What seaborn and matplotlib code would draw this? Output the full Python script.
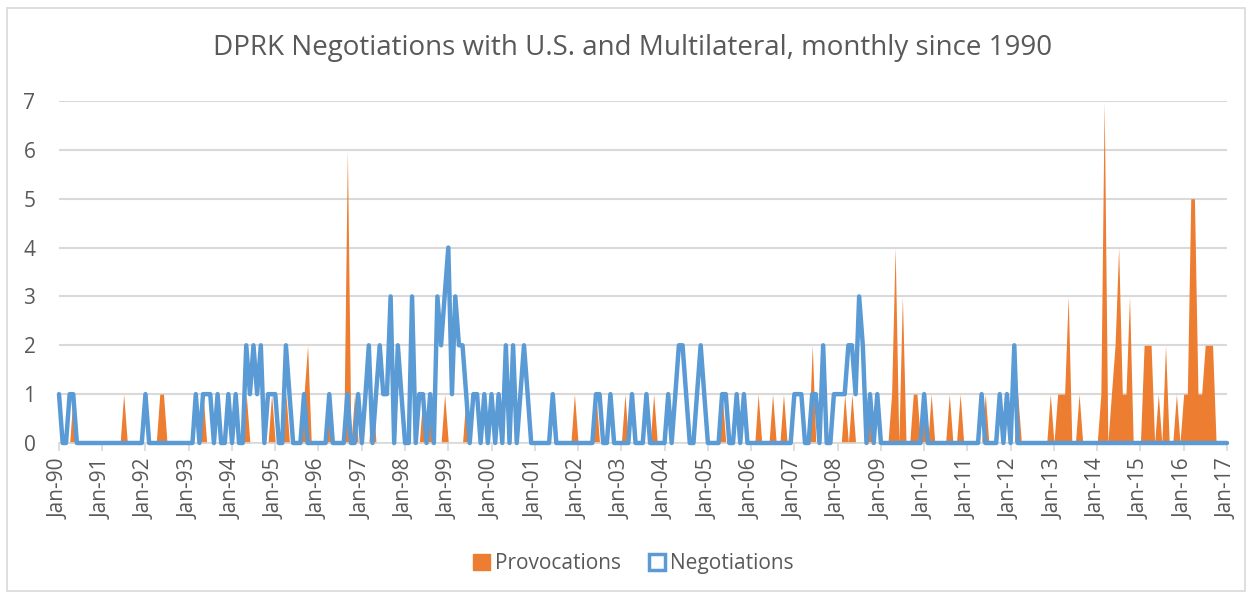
import matplotlib
matplotlib.use("Agg")
import matplotlib.pyplot as plt
import matplotlib.dates as mdates
from matplotlib.patches import Patch, Rectangle
from matplotlib.lines import Line2D
import seaborn as sns
import pandas as pd
import numpy as np

# monthly counts, Jan 1990 .. Jan 2017 (one row per year)
negotiations = [
    1, 0, 0, 1, 1, 0, 0, 0, 0, 0, 0, 0,  # 1990
    0, 0, 0, 0, 0, 0, 0, 0, 0, 0, 0, 0,  # 1991
    1, 0, 0, 0, 0, 0, 0, 0, 0, 0, 0, 0,  # 1992
    0, 0, 1, 0, 1, 1, 1, 0, 1, 0, 0, 1,  # 1993
    0, 1, 0, 0, 2, 1, 2, 1, 2, 0, 1, 1,  # 1994
    1, 0, 0, 2, 1, 0, 0, 0, 1, 0, 0, 0,  # 1995
    0, 0, 0, 1, 0, 0, 0, 0, 1, 0, 0, 1,  # 1996
    0, 1, 2, 0, 1, 2, 1, 1, 3, 0, 2, 1,  # 1997
    0, 0, 3, 0, 1, 1, 0, 1, 0, 3, 2, 3,  # 1998
    4, 1, 3, 2, 2, 1, 0, 1, 1, 0, 1, 0,  # 1999
    1, 0, 1, 0, 2, 0, 2, 0, 1, 2, 1, 0,  # 2000
    0, 0, 0, 0, 0, 1, 0, 0, 0, 0, 0, 0,  # 2001
    0, 0, 0, 0, 0, 1, 1, 0, 0, 1, 0, 0,  # 2002
    0, 0, 0, 1, 0, 0, 0, 1, 0, 0, 0, 0,  # 2003
    0, 1, 0, 1, 2, 2, 1, 0, 0, 1, 2, 1,  # 2004
    0, 0, 0, 0, 1, 1, 0, 0, 1, 0, 1, 0,  # 2005
    0, 0, 0, 0, 0, 0, 0, 0, 0, 0, 0, 0,  # 2006
    1, 1, 1, 0, 0, 1, 1, 0, 2, 0, 0, 1,  # 2007
    1, 1, 1, 2, 2, 1, 3, 2, 0, 1, 0, 1,  # 2008
    0, 0, 0, 0, 0, 0, 0, 0, 0, 0, 0, 0,  # 2009
    1, 0, 0, 0, 0, 0, 0, 0, 0, 0, 0, 0,  # 2010
    0, 0, 0, 0, 1, 0, 0, 0, 0, 1, 0, 1,  # 2011
    0, 2, 0, 0, 0, 0, 0, 0, 0, 0, 0, 0,  # 2012
    0, 0, 0, 0, 0, 0, 0, 0, 0, 0, 0, 0,  # 2013
    0, 0, 0, 0, 0, 0, 0, 0, 0, 0, 0, 0,  # 2014
    0, 0, 0, 0, 0, 0, 0, 0, 0, 0, 0, 0,  # 2015
    0, 0, 0, 0, 0, 0, 0, 0, 0, 0, 0, 0,  # 2016
    0,                                   # 2017
]

provocations = [
    0, 0, 0, 0, 1, 0, 0, 0, 0, 0, 0, 0,  # 1990
    0, 0, 0, 0, 0, 0, 1, 0, 0, 0, 0, 0,  # 1991
    0, 0, 0, 0, 1, 1, 0, 0, 0, 0, 0, 0,  # 1992
    0, 0, 0, 0, 1, 0, 0, 0, 0, 0, 0, 0,  # 1993
    0, 0, 0, 0, 1, 0, 0, 0, 0, 0, 0, 1,  # 1994
    0, 0, 0, 1, 0, 0, 0, 0, 1, 2, 0, 0,  # 1995
    0, 0, 0, 1, 0, 0, 0, 0, 6, 0, 1, 0,  # 1996
    0, 0, 0, 1, 0, 0, 0, 0, 0, 0, 0, 0,  # 1997
    0, 0, 0, 0, 0, 1, 0, 1, 0, 0, 0, 1,  # 1998
    0, 0, 0, 0, 0, 1, 0, 0, 0, 0, 0, 0,  # 1999
    0, 0, 0, 0, 0, 0, 0, 0, 0, 0, 0, 0,  # 2000
    0, 0, 0, 0, 0, 0, 0, 0, 0, 0, 0, 1,  # 2001
    0, 0, 0, 0, 0, 1, 0, 0, 0, 0, 0, 0,  # 2002
    0, 1, 0, 0, 0, 0, 0, 0, 0, 1, 0, 0,  # 2003
    0, 0, 0, 0, 0, 0, 0, 0, 0, 0, 0, 0,  # 2004
    0, 0, 0, 0, 1, 0, 0, 0, 0, 0, 0, 0,  # 2005
    0, 0, 1, 0, 0, 0, 1, 0, 0, 1, 0, 0,  # 2006
    0, 0, 0, 0, 0, 2, 0, 0, 0, 0, 0, 0,  # 2007
    0, 0, 1, 0, 1, 0, 0, 0, 0, 1, 0, 0,  # 2008
    0, 0, 0, 1, 4, 0, 3, 0, 0, 1, 1, 0,  # 2009
    1, 0, 1, 0, 0, 0, 0, 1, 0, 0, 1, 0,  # 2010
    0, 0, 0, 0, 0, 1, 0, 0, 0, 0, 0, 0,  # 2011
    0, 0, 1, 0, 0, 0, 0, 0, 0, 0, 0, 1,  # 2012
    0, 1, 1, 1, 3, 0, 0, 1, 0, 0, 0, 0,  # 2013
    0, 1, 7, 0, 1, 2, 4, 1, 1, 3, 0, 0,  # 2014
    0, 2, 2, 2, 0, 1, 0, 2, 0, 0, 1, 0,  # 2015
    1, 1, 5, 5, 1, 1, 2, 2, 2, 0, 0, 0,  # 2016
    0,                                   # 2017
]

title = "DPRK Negotiations with U.S. and Multilateral, monthly since 1990"
series_names = ["Provocations", "Negotiations"]

months = pd.date_range("1990-01-01", periods=len(negotiations), freq="MS")
year_ticks = pd.date_range("1990-01-01", "2017-01-01", freq="YS")

blue = "#5B9BD5"
orange = "#ED7D31"
grey_txt = "#595959"
grid_c = "#D9D9D9"

sns.set_theme(style="white")
plt.rcParams["font.family"] = ["Open Sans", "DejaVu Sans"]

fig = plt.figure(figsize=(12.52, 5.98), dpi=100)
ax = fig.add_axes([59 / 1252, 155 / 598, 1168 / 1252, 342 / 598])

# provocations as an area, negotiations as a thick line on top
ax.fill_between(months, provocations, 0, color=orange, linewidth=0, zorder=2)
sns.lineplot(x=months, y=negotiations, color=blue, linewidth=3.2, ax=ax,
             solid_joinstyle="round", solid_capstyle="round", zorder=3, clip_on=False)

ax.set_xlim(year_ticks[0], year_ticks[-1])
ax.set_ylim(0, 7)
ax.set_yticks(range(0, 8))
ax.yaxis.grid(True, color=grid_c, linewidth=1.5)
ax.set_axisbelow(True)
ax.set_xticks(year_ticks)
ax.xaxis.set_major_formatter(mdates.DateFormatter("%b-%y"))
for lbl in ax.get_xticklabels():
    lbl.set_rotation(90)
ax.tick_params(axis="x", colors=grey_txt, labelsize=15, length=6, width=1.2,
               color=grid_c, direction="out", bottom=True, pad=5)
ax.tick_params(axis="y", colors=grey_txt, labelsize=15, length=0, pad=17)
for s in ["left", "right", "top"]:
    ax.spines[s].set_visible(False)
ax.spines["bottom"].set_color(grid_c)
ax.spines["bottom"].set_linewidth(1.2)
ax.set_xlabel("")
ax.set_ylabel("")

fig.text(0.505, 0.919, title, ha="center", va="center", fontsize=20, color=grey_txt)

handles = [
    Patch(facecolor=orange, edgecolor=orange),
    Line2D([], [], marker="s", linestyle="none", markersize=11,
           markerfacecolor="white", markeredgecolor=blue, markeredgewidth=2.5),
]
fig.legend(handles, series_names, loc="center", bbox_to_anchor=(0.506, 0.057), ncol=2,
           frameon=False, fontsize=15, labelcolor=grey_txt, handlelength=0.8,
           handleheight=0.8, handletextpad=0.25, columnspacing=1.3)

fig.patches.append(Rectangle((7 / 1252, 7 / 598), 1238 / 1252, 583 / 598,
                             transform=fig.transFigure, fill=False,
                             edgecolor=grid_c, linewidth=1.2))

fig.savefig("out.png", dpi=100)
